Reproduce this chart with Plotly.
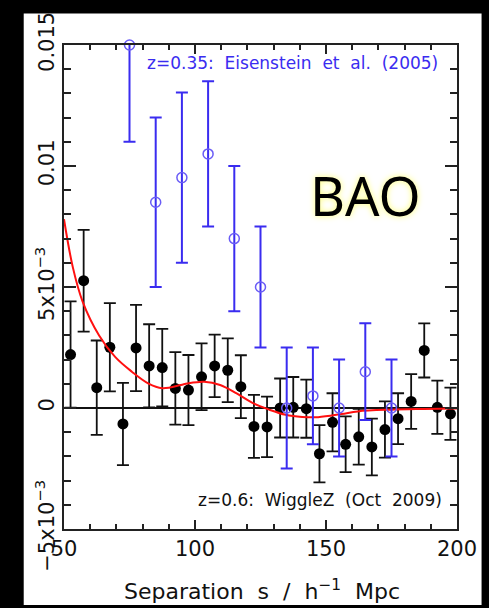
import plotly.graph_objects as go

# WiggleZ z=0.6 correlation function (black)
wz_s = [52.5, 57.5, 62.5, 67.5, 72.5, 77.5, 82.5, 87.5, 92.5, 97.5,
        102.5, 107.5, 112.5, 117.5, 122.5, 127.5, 132.5, 137.5, 142.5, 147.5,
        152.5, 157.5, 162.5, 167.5, 172.5, 177.5, 182.5, 187.5, 192.5, 197.5]
wz_xi = [2.21e-3, 5.26e-3, 0.84e-3, 2.51e-3, -0.66e-3, 2.48e-3, 1.74e-3, 1.67e-3, 0.81e-3, 0.74e-3,
         1.29e-3, 1.74e-3, 1.56e-3, 0.88e-3, -0.76e-3, -0.78e-3, 0.0, 0.03e-3, -0.03e-3, -1.89e-3,
         -0.59e-3, -1.50e-3, -1.19e-3, -1.61e-3, -0.89e-3, -0.44e-3, 0.27e-3, 2.38e-3, 0.03e-3, -0.24e-3]
wz_err = [2.2e-3, 2.1e-3, 1.95e-3, 1.82e-3, 1.70e-3, 1.78e-3, 1.72e-3, 1.60e-3, 1.50e-3, 1.45e-3,
          1.38e-3, 1.29e-3, 1.32e-3, 1.30e-3, 1.30e-3, 1.25e-3, 1.22e-3, 1.25e-3, 1.20e-3, 1.18e-3,
          1.20e-3, 1.15e-3, 1.15e-3, 1.17e-3, 1.16e-3, 1.05e-3, 1.13e-3, 1.12e-3, 1.10e-3, 1.08e-3]

# Eisenstein et al. (2005) z=0.35 (blue)
sdss_s = [75, 85, 95, 105, 115, 125, 135, 145, 155, 165, 175]
sdss_xi = [15.0e-3, 8.5e-3, 9.52e-3, 10.5e-3, 7.0e-3, 5.0e-3, 0.0, 0.5e-3, 0.0, 1.5e-3, 0.0]
sdss_err = [4.0e-3, 3.5e-3, 3.52e-3, 3.0e-3, 3.0e-3, 2.5e-3, 2.5e-3, 2.0e-3, 2.0e-3, 2.0e-3, 2.0e-3]

# Model curve (red)
model_s = [50, 53.4, 57.1, 63.4, 69.6, 75.9, 82.1, 87.5, 94.6, 97.1, 103.5, 109.6, 115.9,
           122.1, 128.4, 134.6, 140.9, 147, 155.9, 162.1, 174.6, 187.1, 200]
model_xi = [7.8e-3, 5.8e-3, 4.4e-3, 3.0e-3, 2.1e-3, 1.5e-3, 1.02e-3, 0.82e-3, 0.95e-3, 1.01e-3,
            1.08e-3, 0.95e-3, 0.6e-3, 0.2e-3, -0.07e-3, -0.28e-3, -0.37e-3, -0.38e-3, -0.25e-3,
            -0.14e-3, -0.07e-3, -0.04e-3, -0.02e-3]

y_tickvals = [-0.005, 0, 0.005, 0.01, 0.015]
y_ticktext = ["\u22125x10<sup>\u22123</sup>", "0", "5x10<sup>\u22123</sup>", "0.01", "0.015"]
x_tickvals = [50, 100, 150, 200]
x_ticktext = ["50", "100", "150", "200"]

BLUE = "#3a2cf0"
FONT = "DejaVu Sans"

fig = go.Figure()

fig.add_trace(go.Scatter(
    x=wz_s, y=wz_xi, mode="markers",
    marker=dict(color="#000000", size=11),
    error_y=dict(type="data", array=wz_err, color="#111111", thickness=1.8, width=6),
    showlegend=False))

fig.add_trace(go.Scatter(
    x=model_s, y=model_xi, mode="lines", line=dict(color="#ff1010", width=2, shape="spline", smoothing=1.0),
    showlegend=False))

fig.add_trace(go.Scatter(
    x=sdss_s, y=sdss_xi, mode="markers",
    marker=dict(symbol="circle-open", color="#6a5cf6", size=10, line=dict(width=1.5)),
    error_y=dict(type="data", array=sdss_err, color=BLUE, thickness=2, width=6),
    cliponaxis=False, showlegend=False))

sep = "\u00a0"
fig.add_annotation(x=137.4, y=14.25e-3, xref="x", yref="y", xanchor="center", yanchor="middle",
                   text="z=0.35:" + sep + " Eisenstein" + sep + " et" + sep + " al." + sep + " (2005)",
                   showarrow=False, font=dict(family=FONT, size=17, color=BLUE))
fig.add_annotation(x=147.8, y=-3.8e-3, xref="x", yref="y", xanchor="center", yanchor="middle",
                   text="z=0.6:" + sep + " WiggleZ" + sep + " (Oct" + sep + " 2009)",
                   showarrow=False, font=dict(family=FONT, size=17, color="#111111"))
fig.add_annotation(x=165.0, y=8.8e-3, xref="x", yref="y", xanchor="center", yanchor="middle",
                   text="BAO", showarrow=False,
                   font=dict(family="Noto Sans", size=54, color="#000000",
                             shadow="0px 0px 6px #ffff70"))
fig.add_annotation(x=0.505, y=-0.127, xref="paper", yref="paper", xanchor="center", yanchor="middle",
                   text="Separation" + sep + sep + "s" + sep + sep + "/" + sep + sep + "h<sup>\u22121</sup>" + sep + sep + "Mpc",
                   showarrow=False, font=dict(family=FONT, size=22, color="#111111"))

# white page on black frame
fig.add_shape(type="rect", xref="paper", yref="paper", x0=-0.1025, x1=1.0625, y0=-0.157, y1=1.0653,
              fillcolor="white", line=dict(width=0), layer="below")

axis_common = dict(showline=True, linecolor="#222222", linewidth=2, mirror="ticks",
                   ticks="inside", tickcolor="#222222", tickwidth=1.5, showgrid=False,
                   tickfont=dict(family=FONT, size=21, color="#111111"))

fig.update_xaxes(range=[50, 200], tickmode="array", tickvals=x_tickvals, ticktext=x_ticktext,
                 ticklen=9, zeroline=False,
                 minor=dict(dtick=10, tick0=50, ticklen=5, ticks="inside", tickcolor="#222222", tickwidth=1.5),
                 **axis_common)
fig.update_yaxes(range=[-0.005, 0.015], tickmode="array", tickvals=y_tickvals, ticktext=y_ticktext,
                 ticklen=12, tickangle=-90,
                 zeroline=True, zerolinecolor="#111111", zerolinewidth=1.5,
                 minor=dict(dtick=0.001, tick0=0, ticklen=7, ticks="inside", tickcolor="#222222", tickwidth=1.5),
                 **axis_common)

fig.update_layout(width=489, height=608, margin=dict(l=64, r=25, t=39, b=79),
                  paper_bgcolor="#000000", plot_bgcolor="#ffffff")

fig.write_html("out.html", config={"displayModeBar": False},
               post_script=("document.body.style.margin='0';document.body.style.background='#000';"
                            "document.documentElement.style.overflow='hidden';"
                            "document.body.style.overflow='hidden';"))
